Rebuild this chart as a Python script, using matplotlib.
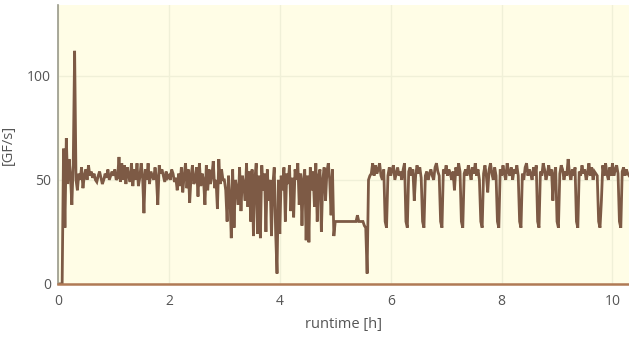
import numpy as np
import matplotlib
matplotlib.use("Agg")
import matplotlib.pyplot as plt

plt.rcParams['font.family'] = ['Open Sans', 'DejaVu Sans']

# sampling interval of runtime [h]
dt = 0.025

# throughput [GF/s], one row per half hour
gflops = [
    0, 0, 0, 0, 65, 27, 70, 48, 60, 52, 38, 58, 112, 50, 45, 53, 50, 56, 46, 52,
    55, 50, 57, 52, 54, 51, 53, 50, 49, 52, 54, 51, 48, 50, 53, 51, 55, 50, 52, 54,
    52, 55, 50, 51, 61, 49, 58, 50, 57, 48, 56, 52, 49, 58, 47, 55, 50, 58, 47, 51,
    58, 52, 34, 55, 50, 58, 48, 54, 52, 50, 56, 51, 38, 57, 53, 55, 52, 49, 54, 51,
    52, 50, 55, 53, 49, 51, 45, 53, 47, 56, 44, 52, 58, 46, 55, 39, 52, 57, 48, 50,
    56, 42, 58, 47, 53, 50, 38, 57, 45, 55, 48, 52, 59, 46, 50, 36, 60, 48, 55, 50,
    50, 45, 30, 52, 42, 22, 55, 27, 50, 46, 38, 56, 35, 52, 48, 40, 58, 37, 54, 30,
    55, 23, 50, 58, 24, 52, 22, 57, 45, 53, 25, 55, 40, 50, 23, 48, 56, 25, 5, 50,
    24, 52, 45, 56, 30, 53, 48, 57, 35, 51, 32, 55, 50, 58, 38, 53, 28, 50, 55, 21,
    52, 20, 56, 45, 54, 37, 58, 30, 52, 55, 25, 50, 56, 40, 54, 58, 50, 33, 55, 23,
    30, 30, 30, 30, 30, 30, 30, 30, 30, 30, 30, 30, 30, 30, 30, 30, 33, 30, 30, 30,
    30, 28, 27, 5, 50, 52, 53, 58, 52, 57, 53, 55, 58, 52, 50, 55, 30, 27, 52, 56,
    52, 55, 57, 50, 53, 56, 52, 54, 50, 55, 58, 30, 27, 54, 56, 52, 55, 40, 52, 57,
    53, 56, 51, 30, 27, 52, 54, 50, 53, 55, 52, 50, 56, 58, 54, 52, 30, 27, 55, 53,
    57, 52, 55, 53, 50, 54, 45, 56, 52, 58, 54, 30, 27, 53, 55, 52, 57, 54, 50, 56,
    53, 58, 52, 55, 50, 30, 27, 53, 57, 52, 44, 55, 58, 53, 50, 56, 52, 30, 27, 55,
    52, 57, 53, 50, 58, 54, 52, 56, 50, 55, 53, 57, 52, 30, 27, 53, 50, 56, 58, 52,
    55, 53, 50, 56, 52, 57, 30, 27, 54, 52, 58, 55, 50, 53, 57, 52, 55, 40, 53, 56,
    30, 27, 53, 57, 55, 50, 54, 52, 60, 53, 50, 55, 52, 56, 30, 27, 54, 52, 57, 53,
    55, 50, 53, 58, 52, 56, 50, 54, 53, 52, 30, 27, 40, 57, 52, 58, 53, 50, 56, 52,
    58, 52, 55, 57, 53, 30, 27, 54, 56, 52, 55, 53, 52,
]
runtime = np.arange(len(gflops)) * dt

xticks = [0, 2, 4, 6, 8, 10]
yticks = [0, 50, 100]

line_color = '#7d5a45'
bg_color = '#fffde6'
grid_color = '#f0f0d8'
text_color = '#555555'

fig = plt.figure(figsize=(6.29, 3.38), dpi=100)
ax = fig.add_axes([0.0922, 0.160, 0.908, 0.825])
ax.set_facecolor(bg_color)

ax.plot(runtime, gflops, color=line_color, linewidth=2.0, solid_joinstyle='miter')

ax.set_xlim(0, 10.3)
ax.set_ylim(0, 134)
ax.set_xticks(xticks)
ax.set_yticks(yticks)
ax.grid(True, color=grid_color, linewidth=1.0)
ax.set_axisbelow(True)

for s in ['top', 'right']:
    ax.spines[s].set_visible(False)
ax.spines['left'].set_color('#9a9a8a')
ax.spines['left'].set_linewidth(1.2)
ax.spines['bottom'].set_color('#b07a55')
ax.spines['bottom'].set_linewidth(1.8)

ax.tick_params(axis='both', length=0, labelsize=10, colors=text_color, pad=5)
ax.tick_params(axis='x', pad=7)

ax.set_xlabel('runtime [h]', fontsize=10.5, color=text_color, labelpad=6)
ax.set_ylabel('[GF/s]', fontsize=10.5, color=text_color, labelpad=8)

fig.savefig('out.png', dpi=100, facecolor='white')
